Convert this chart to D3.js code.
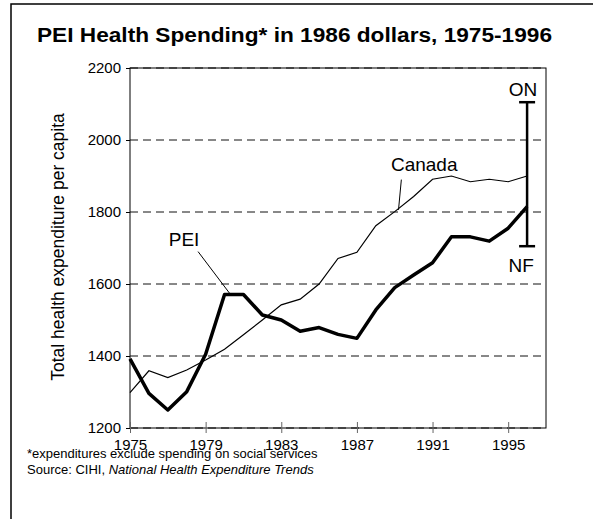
<!DOCTYPE html>
<html>
<head>
<meta charset="utf-8">
<script src="https://cdn.jsdelivr.net/npm/d3@7"></script>
<style>
body { margin: 0; background: #fff; }
svg text { font-family: Arial, "Liberation Sans", sans-serif; }
</style>
</head>
<body>
<svg id="chart"></svg>
<script>
// data (1986 dollars per capita)
var years = [1975,1976,1977,1978,1979,1980,1981,1982,1983,1984,1985,1986,1987,1988,1989,1990,1991,1992,1993,1994,1995,1996];
var canada = [1298,1359,1340,1361,1389,1419,1459,1500,1542,1558,1600,1671,1688,1762,1801,1843,1891,1900,1884,1891,1884,1900];
var pei = [1392,1296,1250,1301,1405,1571,1571,1514,1500,1469,1479,1460,1449,1528,1590,1625,1659,1731,1731,1719,1755,1815];
var rangeYear = 1996;
var rangeLow = 1705;   // NF
var rangeHigh = 2105;  // ON
var xTicks = [1975,1979,1983,1987,1991,1995];
var yTicks = [1200,1400,1600,1800,2000,2200];

var width = 593, height = 519;
var margin = {top: 68, right: 47, bottom: 91, left: 130};

var svg = d3.select("#chart")
    .attr("width", width)
    .attr("height", height);

// outer frame (runs off the right and bottom)
svg.append("rect")
    .attr("x", 11).attr("y", 4)
    .attr("width", 600).attr("height", 530)
    .attr("fill", "none")
    .attr("stroke", "#000")
    .attr("stroke-width", 1.5);

svg.append("text")
    .attr("x", 294.5).attr("y", 42)
    .attr("text-anchor", "middle")
    .attr("font-size", 20)
    .attr("font-weight", "bold")
    .attr("textLength", 515)
    .attr("lengthAdjust", "spacingAndGlyphs")
    .text("PEI Health Spending* in 1986 dollars, 1975-1996");

var xScale = d3.scaleLinear()
    .domain([1975, 1997])
    .range([margin.left, width - margin.right]);

var yScale = d3.scaleLinear()
    .domain([1200, 2200])
    .range([height - margin.bottom, margin.top]);

// dashed grid
svg.selectAll(".grid")
    .data(yTicks)
    .enter()
    .append("line")
    .attr("class", "grid")
    .attr("x1", xScale(1975))
    .attr("x2", xScale(1997))
    .attr("y1", function(d) { return yScale(d); })
    .attr("y2", function(d) { return yScale(d); })
    .attr("stroke", "#111")
    .attr("stroke-dasharray", "8,5");

// plot border
svg.append("rect")
    .attr("x", xScale(1975)).attr("y", yScale(2200))
    .attr("width", xScale(1997) - xScale(1975))
    .attr("height", yScale(1200) - yScale(2200))
    .attr("fill", "none")
    .attr("stroke", "#000");

var yAxis = svg.append("g")
    .attr("transform", "translate(" + margin.left + ",0)")
    .call(d3.axisLeft(yScale).tickValues(yTicks).tickSize(4).tickPadding(5).tickFormat(d3.format("d")));
yAxis.select(".domain").remove();
yAxis.selectAll("text").attr("font-size", 15).attr("fill", "#000").style("font-family", "Arial, 'Liberation Sans', sans-serif");

var xAxis = svg.append("g")
    .attr("transform", "translate(0," + yScale(1200) + ")")
    .call(d3.axisBottom(xScale).tickValues(xTicks).tickSize(5).tickPadding(6).tickFormat(d3.format("d")));
xAxis.select(".domain").remove();
xAxis.selectAll("line").attr("y1", -6).attr("y2", 5).attr("stroke", "#666");
xAxis.selectAll("text").attr("font-size", 15).attr("fill", "#000").style("font-family", "Arial, 'Liberation Sans', sans-serif");

svg.append("text")
    .attr("transform", "translate(64,247) rotate(-90)")
    .attr("text-anchor", "middle")
    .attr("font-size", 17.5)
    .text("Total health expenditure per capita");

var line = d3.line()
    .x(function(d, i) { return xScale(years[i]); })
    .y(function(d) { return yScale(d); });

svg.append("path")
    .datum(canada)
    .attr("d", line)
    .attr("fill", "none")
    .attr("stroke", "#000")
    .attr("stroke-width", 1.2);

svg.append("path")
    .datum(pei)
    .attr("d", line)
    .attr("fill", "none")
    .attr("stroke", "#000")
    .attr("stroke-width", 3.5)
    .attr("stroke-linejoin", "round");

// ON / NF range bar
var bx = xScale(rangeYear);
svg.append("line")
    .attr("x1", bx).attr("x2", bx)
    .attr("y1", yScale(rangeHigh)).attr("y2", yScale(rangeLow))
    .attr("stroke", "#000").attr("stroke-width", 2.5);
[rangeHigh, rangeLow].forEach(function(v) {
    svg.append("line")
        .attr("x1", bx - 8).attr("x2", bx + 8)
        .attr("y1", yScale(v)).attr("y2", yScale(v))
        .attr("stroke", "#000").attr("stroke-width", 2.5);
});
svg.append("text")
    .attr("x", bx - 4).attr("y", yScale(rangeHigh) - 6)
    .attr("text-anchor", "middle")
    .attr("font-size", 19)
    .text("ON");
svg.append("text")
    .attr("x", bx - 6).attr("y", yScale(rangeLow) + 26)
    .attr("text-anchor", "middle")
    .attr("font-size", 19)
    .text("NF");

// series labels with leaders
svg.append("text")
    .attr("x", xScale(1988.8)).attr("y", yScale(1915))
    .attr("font-size", 19)
    .text("Canada");
svg.append("line")
    .attr("x1", xScale(1989.35)).attr("y1", yScale(1890))
    .attr("x2", xScale(1989.2)).attr("y2", yScale(1806))
    .attr("stroke", "#000").attr("stroke-width", 1);

svg.append("text")
    .attr("x", xScale(1977.05)).attr("y", yScale(1705))
    .attr("font-size", 19)
    .text("PEI");
svg.append("line")
    .attr("x1", xScale(1978.6)).attr("y1", yScale(1690))
    .attr("x2", xScale(1980.3)).attr("y2", yScale(1572))
    .attr("stroke", "#000").attr("stroke-width", 1);

// notes
svg.append("text")
    .attr("x", 27).attr("y", 458)
    .attr("font-size", 13)
    .text("*expenditures exclude spending on social services");
var src = svg.append("text")
    .attr("x", 27).attr("y", 474)
    .attr("font-size", 13);
src.append("tspan").text("Source: CIHI, ");
src.append("tspan").attr("font-style", "italic").text("National Health Expenditure Trends");
</script>
</body>
</html>
